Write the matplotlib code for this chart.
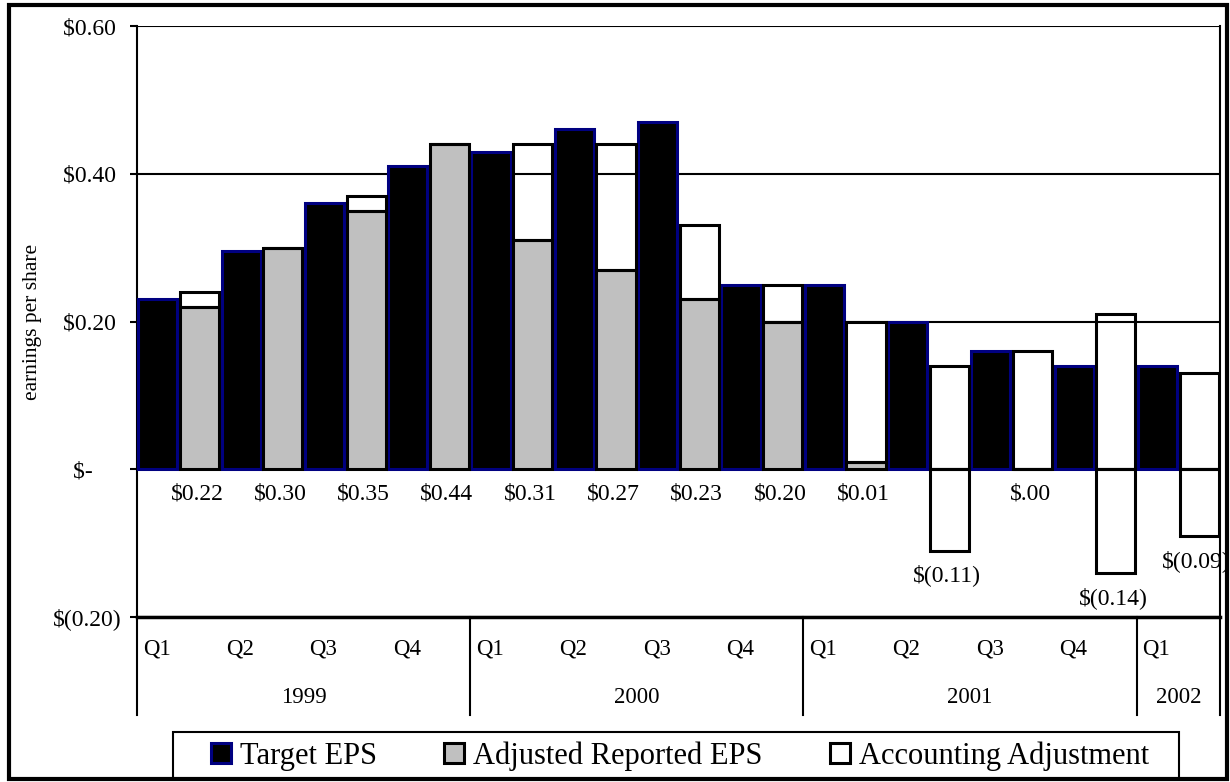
import numpy as np
import matplotlib
matplotlib.use("Agg")
import matplotlib.pyplot as plt
from matplotlib import patches, transforms
from matplotlib.ticker import FixedLocator, FuncFormatter

plt.rcParams["font.family"] = ["Liberation Serif", "DejaVu Serif"]

quarters = ["Q1", "Q2", "Q3", "Q4", "Q1", "Q2", "Q3", "Q4", "Q1", "Q2", "Q3", "Q4", "Q1"]
years = ["1999", "2000", "2001", "2002"]
quarters_per_year = [4, 4, 4, 1]

target_eps = [0.23, 0.295, 0.36, 0.41, 0.43, 0.46, 0.47, 0.25, 0.25, 0.20, 0.16, 0.14, 0.14]
reported_eps = [0.22, 0.30, 0.35, 0.44, 0.31, 0.27, 0.23, 0.20, 0.01, -0.11, 0.00, -0.14, -0.09]
adjustment = [0.02, 0.00, 0.02, 0.00, 0.13, 0.17, 0.10, 0.05, 0.19, 0.14, 0.16, 0.21, 0.13]

NAVY = "#000080"
GRAY = "#c0c0c0"


def money(v):
    if abs(v) < 1e-9:
        return "$.00"
    if v < 0:
        return f"$({-v:.2f})"
    return f"${v:.2f}"


def tick_money(v, pos):
    if abs(v) < 1e-9:
        return "$-     "
    if v < 0:
        return f"$({-v:.2f})"
    return f"${v:.2f} "


fig = plt.figure(figsize=(12.3, 7.82), dpi=100)
ax = fig.add_axes([137 / 1230, 1 - 617 / 782, (1220 - 137) / 1230, (617 - 26) / 782])

x = np.arange(len(quarters))
w = 0.47
reported = np.array(reported_eps)
adj = np.array(adjustment)

ax.bar(x + 0.25, target_eps, w, color="black", edgecolor=NAVY, linewidth=2.2, zorder=3)
# negative reported values are drawn white ("invert if negative")
rep_colors = [GRAY if v >= 0 else "white" for v in reported]
ax.bar(x + 0.75, reported, w, color=rep_colors, edgecolor="black", linewidth=2.2, zorder=3)
adj_bottom = np.where(reported > 0, reported, 0)
ax.bar(x + 0.75, adj, w, bottom=adj_bottom, facecolor="none", edgecolor="black",
       linewidth=2.2, zorder=3)

# data labels for the reported series
for xi, v in zip(x, reported):
    y_end = min(v, 0)
    ax.annotate(money(v), (xi + 0.72, y_end), xytext=(0, -18), textcoords="offset points",
                ha="center", va="center", fontsize=17, zorder=5)

ax.set_xlim(0, len(quarters))
ax.set_ylim(-0.2, 0.6)
ax.yaxis.set_major_locator(FixedLocator([-0.2, 0.0, 0.2, 0.4, 0.6]))
ax.yaxis.set_major_formatter(FuncFormatter(tick_money))
ax.tick_params(axis="y", direction="out", length=5, width=1.5, pad=6, labelsize=17)
ax.set_xticks([])
ax.set_axisbelow(True)
ax.yaxis.grid(True, color="black", linewidth=1.5)

ax.spines["top"].set_visible(False)
ax.spines["left"].set_linewidth(1.5)
ax.spines["right"].set_linewidth(1.5)
ax.spines["bottom"].set_linewidth(2.5)
ax.spines["bottom"].set_zorder(6)

ax.set_ylabel("earnings per share", fontsize=15.5)
ax.yaxis.set_label_coords(-0.088, 0.5)

# two-level category axis
trans = transforms.blended_transform_factory(ax.transData, ax.transAxes)
bottom_ext = -0.166
edges = np.concatenate([[0], np.cumsum(quarters_per_year)])
for e in edges:
    ax.plot([e, e], [0, bottom_ext], color="black", linewidth=1.5, transform=trans,
            clip_on=False)
for xi, q in zip(x, quarters):
    ax.text(xi + 0.07, -0.054, q, transform=trans, ha="left", va="center", fontsize=16.5)
for i, yr in enumerate(years):
    ax.text((edges[i] + edges[i + 1]) / 2, -0.136, yr, transform=trans, ha="center",
            va="center", fontsize=16.5)

# legend
handles = [
    patches.Patch(facecolor="black", edgecolor=NAVY, linewidth=2.2, label="Target EPS"),
    patches.Patch(facecolor=GRAY, edgecolor="black", linewidth=2.2, label="Adjusted Reported EPS"),
    patches.Patch(facecolor="white", edgecolor="black", linewidth=2.2, label="Accounting Adjustment"),
]
fig.legend(handles=handles, loc="center", bbox_to_anchor=(680 / 1230, 1 - 756 / 782),
           ncol=3, fontsize=22, frameon=False, borderaxespad=0, borderpad=0,
           handlelength=0.66, handleheight=0.66, handletextpad=0.3, columnspacing=2.2)
fig.patches.append(patches.Rectangle((173 / 1230, 3 / 782), 1006 / 1230, 47 / 782,
                                     transform=fig.transFigure, fill=False,
                                     edgecolor="black", linewidth=1.5))

# outer frame
fig.patches.append(patches.Rectangle((9 / 1230, 3 / 782), 1218 / 1230, 774 / 782,
                                     transform=fig.transFigure, fill=False,
                                     edgecolor="black", linewidth=3))

fig.savefig("out.png", dpi=100)
